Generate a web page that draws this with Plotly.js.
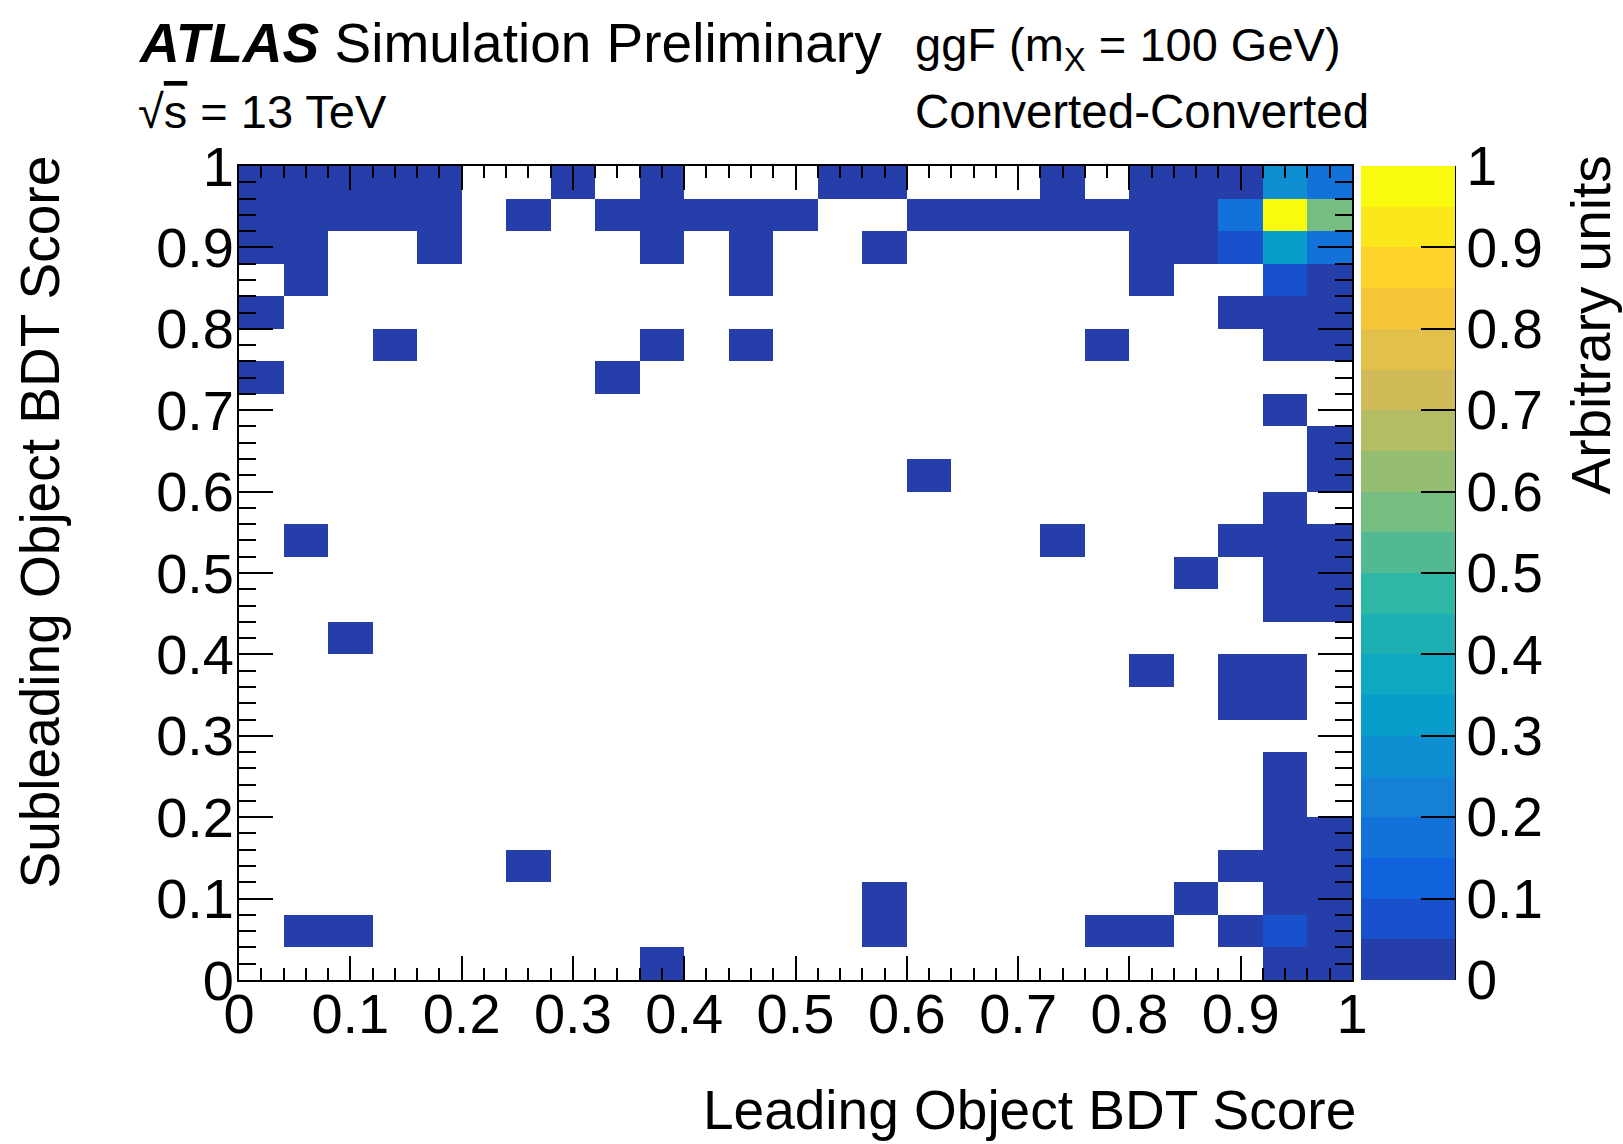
<!DOCTYPE html>
<html>
<head>
<meta charset="utf-8">
<script src="https://cdn.plot.ly/plotly-3.0.1.min.js"></script>
<style>html,body{margin:0;padding:0;background:#fff;}#chart{width:1623px;height:1144px;}</style>
</head>
<body>
<div id="chart"></div>
<script>
// ---- data ----
const _ = null;
// bin centres of the 25 x 25 histogram (bin width 0.04)
const binCenters = [0.02,0.06,0.10,0.14,0.18,0.22,0.26,0.30,0.34,0.38,0.42,0.46,0.50,
                    0.54,0.58,0.62,0.66,0.70,0.74,0.78,0.82,0.86,0.90,0.94,0.98];
// rows: subleading score bins (bottom to top), columns: leading score bins (left to right)
const zValues = [
  [_,_,_,_,_,_,_,_,_,.02,_,_,_,_,_,_,_,_,_,_,_,_,_,.02,.02],
  [_,.02,.02,_,_,_,_,_,_,_,_,_,_,_,.02,_,_,_,_,.02,.02,_,.02,.08,.02],
  [_,_,_,_,_,_,_,_,_,_,_,_,_,_,.02,_,_,_,_,_,_,.02,_,.02,.02],
  [_,_,_,_,_,_,.02,_,_,_,_,_,_,_,_,_,_,_,_,_,_,_,.02,.02,.02],
  [_,_,_,_,_,_,_,_,_,_,_,_,_,_,_,_,_,_,_,_,_,_,_,.02,.02],
  [_,_,_,_,_,_,_,_,_,_,_,_,_,_,_,_,_,_,_,_,_,_,_,.02,_],
  [_,_,_,_,_,_,_,_,_,_,_,_,_,_,_,_,_,_,_,_,_,_,_,.02,_],
  [_,_,_,_,_,_,_,_,_,_,_,_,_,_,_,_,_,_,_,_,_,_,_,_,_],
  [_,_,_,_,_,_,_,_,_,_,_,_,_,_,_,_,_,_,_,_,_,_,.02,.02,_],
  [_,_,_,_,_,_,_,_,_,_,_,_,_,_,_,_,_,_,_,_,.02,_,.02,.02,_],
  [_,_,.02,_,_,_,_,_,_,_,_,_,_,_,_,_,_,_,_,_,_,_,_,_,_],
  [_,_,_,_,_,_,_,_,_,_,_,_,_,_,_,_,_,_,_,_,_,_,_,.02,.02],
  [_,_,_,_,_,_,_,_,_,_,_,_,_,_,_,_,_,_,_,_,_,.02,_,.02,.02],
  [_,.02,_,_,_,_,_,_,_,_,_,_,_,_,_,_,_,_,.02,_,_,_,.02,.02,.02],
  [_,_,_,_,_,_,_,_,_,_,_,_,_,_,_,_,_,_,_,_,_,_,_,.02,_],
  [_,_,_,_,_,_,_,_,_,_,_,_,_,_,_,.02,_,_,_,_,_,_,_,_,.02],
  [_,_,_,_,_,_,_,_,_,_,_,_,_,_,_,_,_,_,_,_,_,_,_,_,.02],
  [_,_,_,_,_,_,_,_,_,_,_,_,_,_,_,_,_,_,_,_,_,_,_,.02,_],
  [.02,_,_,_,_,_,_,_,.02,_,_,_,_,_,_,_,_,_,_,_,_,_,_,_,_],
  [_,_,_,.02,_,_,_,_,_,.02,_,.02,_,_,_,_,_,_,_,.02,_,_,_,.02,.02],
  [.02,_,_,_,_,_,_,_,_,_,_,_,_,_,_,_,_,_,_,_,_,_,.02,.02,.02],
  [_,.02,_,_,_,_,_,_,_,_,_,.02,_,_,_,_,_,_,_,_,.02,_,_,.08,.02],
  [.02,.02,_,_,.02,_,_,_,_,.02,_,.02,_,_,.02,_,_,_,_,_,.02,.02,.08,.33,.18],
  [.02,.02,.02,.02,.02,_,.02,_,.02,.02,.02,.02,.02,_,_,.02,.02,.02,.02,.02,.02,.02,.18,1,.58],
  [.02,.02,.02,.02,.02,_,_,.02,_,.02,_,_,_,.02,.02,_,_,_,.02,_,.02,.02,.02,.27,.18]
];
const tickValues = [0,0.1,0.2,0.3,0.4,0.5,0.6,0.7,0.8,0.9,1];
const tickLabels = ["0","0.1","0.2","0.3","0.4","0.5","0.6","0.7","0.8","0.9","1"];

// ---- style: 20-level kBird palette ----
const palette = [
  'rgb(38,62,170)','rgb(23,82,204)','rgb(16,99,220)','rgb(18,114,217)','rgb(20,129,214)',
  'rgb(14,143,209)','rgb(9,157,204)','rgb(14,168,194)','rgb(30,175,179)','rgb(46,183,164)',
  'rgb(82,186,146)','rgb(117,189,128)','rgb(150,190,113)','rgb(179,189,101)','rgb(209,187,89)',
  'rgb(227,192,74)','rgb(245,198,58)','rgb(253,211,43)','rgb(251,231,28)','rgb(249,251,14)'
];
const colorscale = [];
palette.forEach((c, k) => {
  colorscale.push([k / palette.length, c]);
  colorscale.push([(k + 1) / palette.length, c]);
});

const FONT = 'Liberation Sans, Arial, Helvetica, sans-serif';
const W = 1623, H = 1144;
const L = 239, R = 1352, T = 166, B = 980;
const pw = R - L, ph = B - T;
const px = v => (v - L) / pw;
const py = v => (B - v) / ph;

const trace = {
  type: 'heatmap',
  x: binCenters,
  y: binCenters,
  z: zValues,
  zmin: 0, zmax: 1,
  colorscale: colorscale,
  hoverongaps: false,
  zsmooth: false,
  colorbar: {
    x: px(1361), xanchor: 'left', xpad: 0,
    y: 0.5, yanchor: 'middle', ypad: 0,
    len: 1, lenmode: 'fraction',
    thickness: 94, thicknessmode: 'pixels',
    outlinewidth: 0,
    ticks: 'inside', ticklen: 34, tickwidth: 2, tickcolor: '#000',
    tickmode: 'array', tickvals: tickValues, ticktext: tickLabels,
    tickfont: {family: FONT, size: 55, color: '#000'}
  }
};
// empty trace that only carries the label axes (draws nothing)
const labelCarrier = {
  type: 'scatter', mode: 'markers', x: [], y: [], xaxis: 'x2', yaxis: 'y2',
  hoverinfo: 'skip', showlegend: false
};

const axisCommon = {
  range: [0, 1],
  tickmode: 'array', tickvals: tickValues, ticktext: tickLabels,
  ticks: 'inside', tickwidth: 2, tickcolor: '#000',
  showline: true, linewidth: 2, linecolor: '#000', mirror: 'allticks',
  showgrid: false, zeroline: false,
  showticklabels: false,
  fixedrange: true
};
// label-only axes, placed so the numbers sit as close to the frame as in the reference
const labelAxis = {
  range: [0, 1],
  tickmode: 'array', tickvals: tickValues, ticktext: tickLabels,
  ticks: '', showline: false, showgrid: false, zeroline: false,
  tickfont: {family: FONT, size: 56, color: '#000'},
  fixedrange: true
};

const layout = {
  width: W, height: H,
  margin: {l: L, r: W - R, t: T, b: H - B, pad: 0},
  paper_bgcolor: '#fff', plot_bgcolor: '#fff',
  showlegend: false,
  xaxis: Object.assign({}, axisCommon, {
    ticklen: 24,
    minor: {dtick: 0.02, tick0: 0, ticks: 'inside', ticklen: 12, tickwidth: 2, tickcolor: '#000', showgrid: false}
  }),
  yaxis: Object.assign({}, axisCommon, {
    ticklen: 34,
    minor: {dtick: 0.02, tick0: 0, ticks: 'inside', ticklen: 17, tickwidth: 2, tickcolor: '#000', showgrid: false}
  }),
  xaxis2: Object.assign({}, labelAxis, {overlaying: 'x', anchor: 'free', position: 4 / ph, side: 'bottom'}),
  yaxis2: Object.assign({}, labelAxis, {overlaying: 'y', anchor: 'free', position: 0, side: 'left', ticklabelstandoff: 5}),
  shapes: [
    {type: 'line', xref: 'paper', yref: 'paper', x0: px(1455), x1: px(1455), y0: 0, y1: 1,
     line: {color: '#000', width: 2}}
  ],
  annotations: [
    {text: '<b><i>ATLAS</i></b> Simulation Preliminary', xref: 'paper', yref: 'paper',
     x: px(136), y: py(43), xanchor: 'left', yanchor: 'middle', showarrow: false,
     font: {family: FONT, size: 55, color: '#000'}},
    {text: '\u221A<span style="text-decoration:overline">s</span> = 13 TeV', xref: 'paper', yref: 'paper',
     x: px(136), y: py(111), xanchor: 'left', yanchor: 'middle', showarrow: false,
     font: {family: FONT, size: 47, color: '#000'}},
    {text: 'ggF (m<sub>X</sub> = 100 GeV)', xref: 'paper', yref: 'paper',
     x: px(913), y: py(48), xanchor: 'left', yanchor: 'middle', showarrow: false,
     font: {family: FONT, size: 47, color: '#000'}},
    {text: 'Converted-Converted', xref: 'paper', yref: 'paper',
     x: px(913), y: py(111), xanchor: 'left', yanchor: 'middle', showarrow: false,
     font: {family: FONT, size: 47.5, color: '#000'}},
    {text: 'Leading Object BDT Score', xref: 'paper', yref: 'paper',
     x: px(1358), y: py(1110), xanchor: 'right', yanchor: 'middle', showarrow: false,
     font: {family: FONT, size: 55, color: '#000'}},
    {text: 'Subleading Object BDT Score', xref: 'paper', yref: 'paper', textangle: -90,
     x: px(39), y: py(154), xanchor: 'center', yanchor: 'top', showarrow: false,
     font: {family: FONT, size: 55, color: '#000'}},
    {text: 'Arbitrary units', xref: 'paper', yref: 'paper', textangle: -90,
     x: px(1590), y: py(154), xanchor: 'center', yanchor: 'top', showarrow: false,
     font: {family: FONT, size: 55, color: '#000'}}
  ]
};

Plotly.newPlot('chart', [trace, labelCarrier], layout, {displayModeBar: false, staticPlot: true});
</script>
</body>
</html>
